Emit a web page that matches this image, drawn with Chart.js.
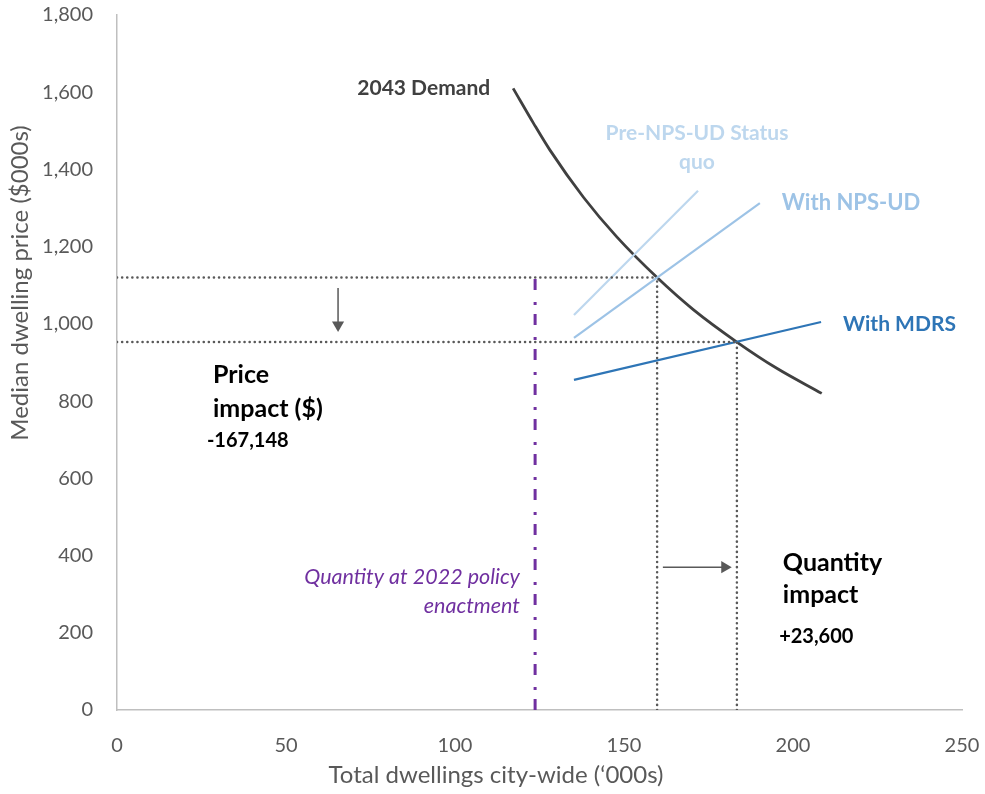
<!DOCTYPE html>
<html>
<head>
<meta charset="utf-8">
<script src="https://cdn.jsdelivr.net/npm/chart.js@4/dist/chart.umd.min.js"></script>
<style>
  html, body { margin: 0; padding: 0; background: #fff; }
  #wrap { width: 985px; height: 794px; position: relative; }
</style>
</head>
<body>
<div id="wrap"><canvas id="chart"></canvas></div>
<script>
// Values: x = dwellings ('000s), y = median price ($000s)
const xTicks = [0, 50, 100, 150, 200, 250];
const yTicks = [0, 200, 400, 600, 800, 1000, 1200, 1400, 1600, 1800];

// 2043 demand curve
const demandX = [117.2, 123.2, 128.1, 138.0, 147.8, 159.8, 170.5, 183.4, 195.2, 208.5];
const demandY = [1610, 1520, 1450, 1328, 1226, 1120, 1037, 953, 885, 820];

// supply lines
const preX = [135.2, 171.9];
const preY = [1023, 1345];
const npsX = [135.2, 190.2];
const npsY = [964, 1313];
const mdrsX = [135.2, 208.3];
const mdrsY = [855, 1005];

// equilibria (NPS-UD, MDRS) and policy quantity
const eqX = [159.8, 183.4];
const eqY = [1120, 953];
const policyX = 123.7;

// impact arrows (start, end)
const priceArrowX = [65.4, 65.4];
const priceArrowY = [1093, 997];
const qtyArrowX = [161.5, 179.8];
const qtyArrowY = [370, 370];

const pts = (xs, ys) => xs.map((x, i) => ({ x: x, y: ys[i] }));

const GREY = '#595959';
const dotted = { borderColor: GREY, borderWidth: 2.5, borderDash: [0.1, 5], borderCapStyle: 'round', pointRadius: 0, fill: false };

// text notes, anchored in data units
const notes = [
  { lines: ['2043 Demand'], x: 110.4, y: 1611, align: 'right', color: '#404040', font: 'bold 21px Lato', gap: 0 },
  { lines: ['Pre-NPS-UD Status', 'quo'], x: 171.6, y: 1495, align: 'center', color: '#bdd7ee', font: 'bold 21px Lato', gap: 29 },
  { lines: ['With NPS-UD'], x: 196.7, y: 1313, align: 'left', color: '#9dc3e6', font: 'bold 22px Lato', gap: 0 },
  { lines: ['With MDRS'], x: 214.8, y: 1000, align: 'left', color: '#2e75b6', font: 'bold 21px Lato', gap: 0 },
  { lines: ['Price', 'impact ($)'], x: 28.4, y: 868, align: 'left', color: '#000', font: 'bold 25px Lato', gap: 34 },
  { lines: ['-167,148'], x: 26.6, y: 697, align: 'left', color: '#000', font: 'bold 20px Lato', gap: 0 },
  { lines: ['Quantity at 2022 policy', 'enactment'], x: 119.2, y: 345, align: 'right', color: '#7030a0', font: 'italic 21.5px Lato', gap: 29 },
  { lines: ['Quantity', 'impact'], x: 197, y: 381, align: 'left', color: '#000', font: 'bold 25px Lato', gap: 32 },
  { lines: ['+23,600'], x: 195.9, y: 189, align: 'left', color: '#000', font: 'bold 20px Lato', gap: 0 }
];

const notesPlugin = {
  id: 'notes',
  afterDraw(chart) {
    const ctx = chart.ctx;
    const xs = chart.scales.x, ys = chart.scales.y;
    ctx.save();
    ctx.textBaseline = 'middle';
    notes.forEach(n => {
      ctx.font = n.font;
      ctx.fillStyle = n.color;
      ctx.textAlign = n.align;
      const px = xs.getPixelForValue(n.x);
      const py = ys.getPixelForValue(n.y);
      n.lines.forEach((t, i) => ctx.fillText(t, px, py + i * n.gap));
    });
    // axis titles
    ctx.font = '24px Lato';
    ctx.fillStyle = GREY;
    ctx.textAlign = 'center';
    ctx.fillText('Total dwellings city-wide (\u2018000s)', 496, 775);
    ctx.translate(20, 283);
    ctx.rotate(-Math.PI / 2);
    ctx.fillText('Median dwelling price ($000s)', 0, 0);
    ctx.restore();
  }
};

new Chart(document.getElementById('chart'), {
  type: 'line',
  data: {
    datasets: [
      Object.assign({ data: pts([0, eqX[0]], [eqY[0], eqY[0]]) }, dotted),
      Object.assign({ data: pts([eqX[0], eqX[0]], [0, eqY[0]]) }, dotted),
      Object.assign({ data: pts([0, eqX[1]], [eqY[1], eqY[1]]) }, dotted),
      Object.assign({ data: pts([eqX[1], eqX[1]], [0, eqY[1]]) }, dotted),
      {
        data: pts([policyX, policyX], [0, eqY[0]]),
        borderColor: '#7030a0', borderWidth: 3, borderDash: [11, 9, 3, 12], pointRadius: 0
      },
      { data: pts(preX, preY), borderColor: '#bdd7ee', borderWidth: 2.2, pointRadius: 0 },
      { data: pts(npsX, npsY), borderColor: '#9dc3e6', borderWidth: 2.2, pointRadius: 0 },
      { data: pts(mdrsX, mdrsY), borderColor: '#2e75b6', borderWidth: 2.2, pointRadius: 0 },
      {
        data: pts(demandX, demandY), borderColor: '#404040', borderWidth: 2.8,
        pointRadius: 0, cubicInterpolationMode: 'monotone'
      },
      {
        data: pts(priceArrowX, priceArrowY), borderColor: GREY, borderWidth: 1.5,
        pointStyle: 'triangle', pointRadius: [0, 7], pointRotation: 180,
        pointBackgroundColor: GREY, pointBorderColor: GREY, pointBorderWidth: 0
      },
      {
        data: pts(qtyArrowX, qtyArrowY), borderColor: GREY, borderWidth: 1.5,
        pointStyle: 'triangle', pointRadius: [0, 7], pointRotation: 90,
        pointBackgroundColor: GREY, pointBorderColor: GREY, pointBorderWidth: 0
      }
    ]
  },
  options: {
    responsive: true,
    maintainAspectRatio: false,
    animation: false,
    layout: { padding: { top: 15, right: 23, left: 0, bottom: 0 } },
    plugins: { legend: { display: false }, tooltip: { enabled: false } },
    scales: {
      x: {
        type: 'linear', min: 0, max: 250,
        afterBuildTicks: s => { s.ticks = xTicks.map(v => ({ value: v })); },
        afterFit: s => { s.height = 84; s.paddingLeft = 0; s.paddingRight = 0; },
        grid: { display: false, drawTicks: false },
        border: { display: true, color: '#bfbfbf', width: 1.5 },
        ticks: { color: GREY, font: { family: 'Lato', size: 20 }, padding: 24, maxRotation: 0 }
      },
      y: {
        type: 'linear', min: 0, max: 1800,
        afterBuildTicks: s => { s.ticks = yTicks.map(v => ({ value: v })); },
        afterFit: s => { s.width = 117; s.paddingTop = 0; s.paddingBottom = 0; },
        grid: { display: false, drawTicks: false },
        border: { display: true, color: '#bfbfbf', width: 1.5 },
        ticks: {
          color: GREY, font: { family: 'Lato', size: 20 }, padding: 24,
          callback: v => v.toLocaleString('en-US')
        }
      }
    }
  },
  plugins: [notesPlugin]
});
</script>
</body>
</html>
